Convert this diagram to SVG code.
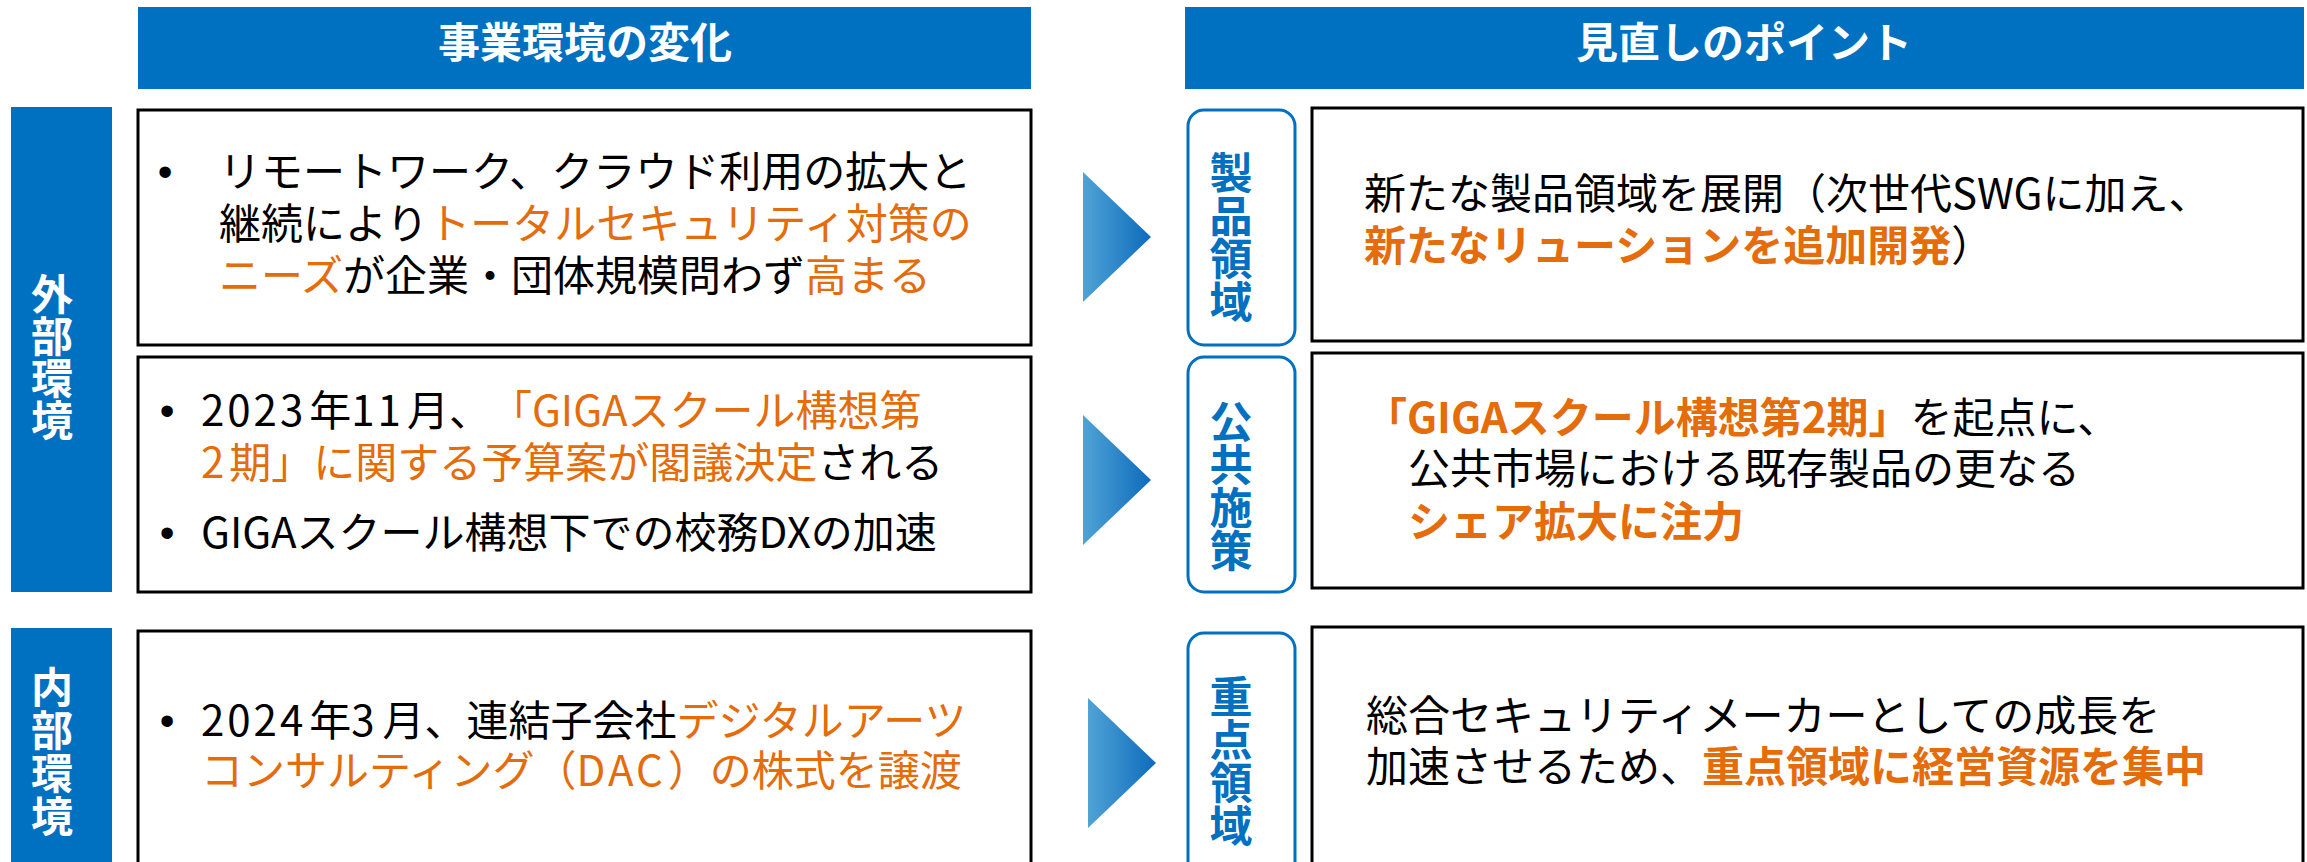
<svg xmlns="http://www.w3.org/2000/svg" width="2307" height="862" viewBox="0 0 2307 862">
<defs>
<style>
text{font-family:"Noto Sans CJK JP","Noto Sans",sans-serif;}
.hdr{fill:#0070C0;}
.hdrt{fill:#ffffff;font-size:42px;font-weight:700;text-anchor:middle;}
.side{fill:#0070C0;}
.vt{writing-mode:vertical-rl;font-weight:700;}
.sidet{fill:#ffffff;font-size:42px;}
.box{fill:#ffffff;stroke:#000000;stroke-width:3;}
.lbl{fill:#ffffff;stroke:#0070C0;stroke-width:3;}
.lblt{fill:#0070C0;font-size:43px;}
.body{fill:#000000;font-size:42px;}
.or{fill:#E46C0A;}
.b{font-weight:700;}
.bul{font-family:"Liberation Sans",sans-serif;}
.dg{letter-spacing:3px;}
</style>
<linearGradient id="ag" x1="0" y1="0" x2="1" y2="0">
<stop offset="0" stop-color="#4FA3D5"/>
<stop offset="1" stop-color="#0E6BBC"/>
</linearGradient>
</defs>
<rect width="2307" height="862" fill="#ffffff"/>

<g id="header-left">
<rect class="hdr" x="138" y="7" width="893" height="82"/>
<text class="hdrt" x="585" y="58">事業環境の変化</text>
</g>
<g id="header-right">
<rect class="hdr" x="1185" y="7" width="1119" height="82"/>
<text class="hdrt" x="1744" y="58">見直しのポイント</text>
</g>

<g id="side-external">
<rect class="side" x="11" y="107" width="101" height="485"/>
<text class="vt sidet" x="52" y="273">外部環境</text>
</g>
<g id="side-internal">
<rect class="side" x="11" y="628" width="101" height="250"/>
<text class="vt sidet" x="52" y="666" letter-spacing="1">内部環境</text>
</g>

<g id="env-remote">
<rect class="box" x="138" y="110" width="893" height="235"/>
<text class="body"><tspan class="bul" x="165" y="186" text-anchor="middle">•</tspan><tspan x="219" y="187">リモートワーク、クラウド利用の拡大と</tspan><tspan x="219" y="239">継続により</tspan><tspan class="or">トータルセキュリティ対策の</tspan><tspan class="or" x="219" y="291">ニーズ</tspan><tspan>が企業・団体規模問わず</tspan><tspan class="or">高まる</tspan></text>
</g>

<g id="env-giga">
<rect class="box" x="138" y="357" width="893" height="235"/>
<text class="body"><tspan class="bul" x="167" y="425" text-anchor="middle">•</tspan><tspan class="dg" x="201" y="426">2023</tspan><tspan dx="3">年</tspan><tspan class="dg">11</tspan><tspan dx="3">月、</tspan><tspan class="or" dx="20">「GIGAスクール構想第</tspan><tspan class="or dg" x="201" y="478">2</tspan><tspan class="or" dx="2">期」に関する予算案が閣議決定</tspan><tspan>される</tspan><tspan class="bul" x="167" y="547" text-anchor="middle">•</tspan><tspan x="201" y="548">GIGAスクール構想下での校務DXの加速</tspan></text>
</g>

<g id="env-internal">
<rect class="box" x="138" y="631" width="893" height="250"/>
<text class="body"><tspan class="bul" x="167" y="735" text-anchor="middle">•</tspan><tspan class="dg" x="201" y="736">2024</tspan><tspan dx="3">年</tspan><tspan class="dg">3</tspan><tspan dx="5">月、連結子会社</tspan><tspan class="or">デジタルアーツ</tspan><tspan class="or" x="201" y="786">コンサルティング（</tspan><tspan class="or" letter-spacing="3">DAC</tspan><tspan class="or" dx="2">）の株式を譲渡</tspan></text>
</g>

<g id="connectors">
<polygon points="1083,172 1151,237 1083,302" fill="url(#ag)"/>
<polygon points="1083,415 1151,480 1083,545" fill="url(#ag)"/>
<polygon points="1088,698 1156,763 1088,828" fill="url(#ag)"/>
</g>

<g id="label-product">
<rect class="lbl" x="1188" y="110" width="107" height="235" rx="16"/>
<text class="vt lblt" x="1231" y="151">製品領域</text>
</g>
<g id="label-public">
<rect class="lbl" x="1188" y="357" width="107" height="235" rx="16"/>
<text class="vt lblt" x="1231" y="400">公共施策</text>
</g>
<g id="label-focus">
<rect class="lbl" x="1188" y="633" width="107" height="250" rx="16"/>
<text class="vt lblt" x="1231" y="675">重点領域</text>
</g>

<g id="point-product">
<rect class="box" x="1312" y="108" width="991" height="233"/>
<text class="body"><tspan x="1364" y="209">新たな製品領域を展開（次世代SWGに加え、</tspan><tspan class="or b" x="1364" y="261">新たなリューションを追加開発</tspan><tspan>）</tspan></text>
</g>
<g id="point-public">
<rect class="box" x="1312" y="353" width="991" height="235"/>
<text class="body"><tspan class="or b" x="1365" y="433">「GIGAスクール構想第2期」</tspan><tspan>を起点に、</tspan><tspan x="1408" y="484">公共市場における既存製品の更なる</tspan><tspan class="or b" x="1408" y="537">シェア拡大に注力</tspan></text>
</g>
<g id="point-focus">
<rect class="box" x="1312" y="627" width="991" height="254"/>
<text class="body"><tspan x="1366" y="731">総合セキュリティメーカーとしての成長を</tspan><tspan x="1366" y="782">加速させるため、</tspan><tspan class="or b">重点領域に経営資源を集中</tspan></text>
</g>
</svg>
